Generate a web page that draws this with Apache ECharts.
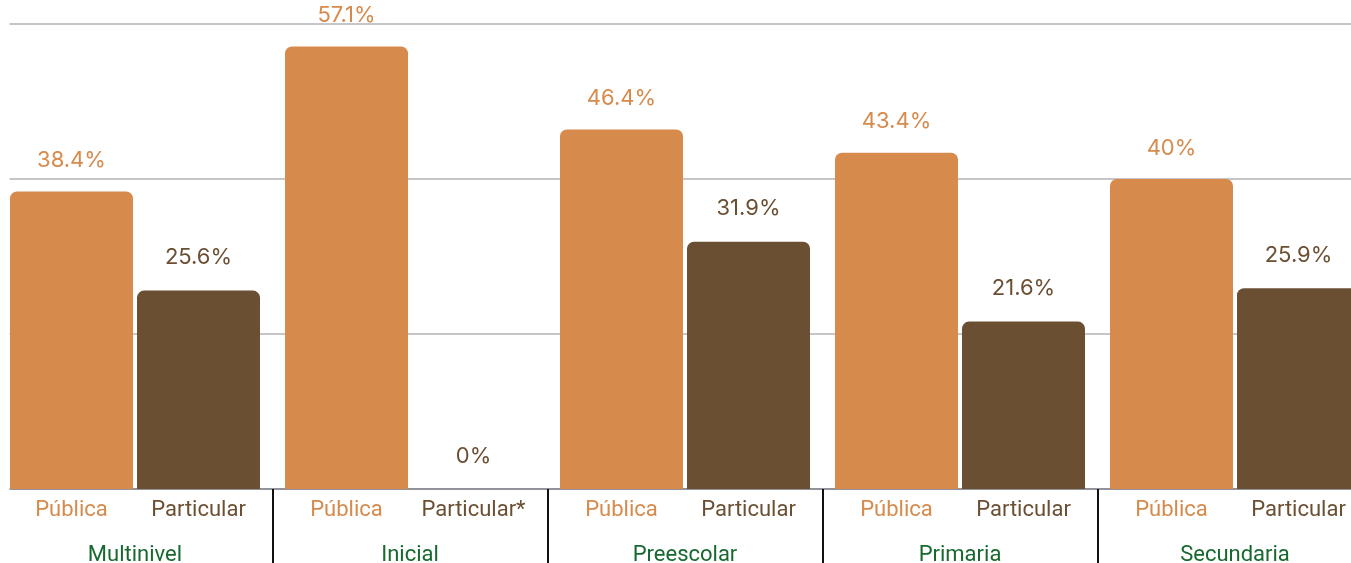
<!DOCTYPE html>
<html>
<head>
<meta charset="utf-8">
<script src="https://cdn.jsdelivr.net/npm/echarts@6/dist/echarts.min.js"></script>
<style>html,body{margin:0;padding:0;background:#fff}#c{width:1351px;height:563px}</style>
</head>
<body>
<div id="c"></div>
<script>
const groups = ['Multinivel', 'Inicial', 'Preescolar', 'Primaria', 'Secundaria'];
const subLabels = [['Pública', 'Particular'], ['Pública', 'Particular*'], ['Pública', 'Particular'], ['Pública', 'Particular'], ['Pública', 'Particular']];
const publica = [38.4, 57.1, 46.4, 43.4, 40];
const particular = [25.6, 0, 31.9, 21.6, 25.9];
const yTicks = [0, 20, 40, 60];

const ORANGE = '#D68A4C', BROWN = '#6B4F33', GREEN = '#17692F';
const chart = echarts.init(document.getElementById('c'));
chart.setOption({
  animation: false,
  grid: { left: -2.5, right: -21.5, top: 24, bottom: 74, containLabel: false, outerBoundsMode: 'none' },
  xAxis: {
    type: 'category',
    data: groups,
    axisLine: { lineStyle: { color: '#80808a', width: 1.5 } },
    axisTick: { show: true, length: 76, lineStyle: { color: '#111', width: 2 } },
    axisLabel: {
      margin: 9,
      interval: 0,
      formatter: function (v, i) {
        const s = subLabels[i];
        return '{p|' + s[0] + '}{q|' + s[1] + '}\n{g|' + v + '}';
      },
      rich: {
        p: { width: 127, align: 'center', color: ORANGE, fontSize: 22, lineHeight: 24, fontFamily: 'Roboto' },
        q: { width: 127, align: 'center', color: BROWN, fontSize: 22, lineHeight: 24, fontFamily: 'Roboto' },
        g: { color: GREEN, fontSize: 22, lineHeight: 66, fontFamily: 'Roboto' }
      }
    }
  },
  yAxis: {
    type: 'value', min: yTicks[0], max: yTicks[yTicks.length - 1], interval: 20,
    axisLabel: { show: false }, axisLine: { show: false }, axisTick: { show: false },
    splitLine: { lineStyle: { color: '#c6c6ca', width: 2 } }
  },
  graphic: [{ type: 'rect', shape: { x: 0, y: 0, width: 9.5, height: 563 }, style: { fill: '#fff' }, z: 100 }],
  series: [
    {
      name: 'Pública', type: 'bar', data: publica, barWidth: 123, barGap: '3.25%',
      itemStyle: { color: ORANGE, borderRadius: [7, 7, 0, 0] },
      label: { show: true, position: 'top', distance: 20, formatter: '{c}%', color: ORANGE, fontSize: 22, fontFamily: 'Inter' }
    },
    {
      name: 'Particular', type: 'bar', data: particular, barWidth: 123,
      itemStyle: { color: BROWN, borderRadius: [7, 7, 0, 0] },
      label: { show: true, position: 'top', distance: 22, formatter: '{c}%', color: BROWN, fontSize: 22, fontFamily: 'Inter' }
    }
  ]
});
</script>
</body>
</html>
